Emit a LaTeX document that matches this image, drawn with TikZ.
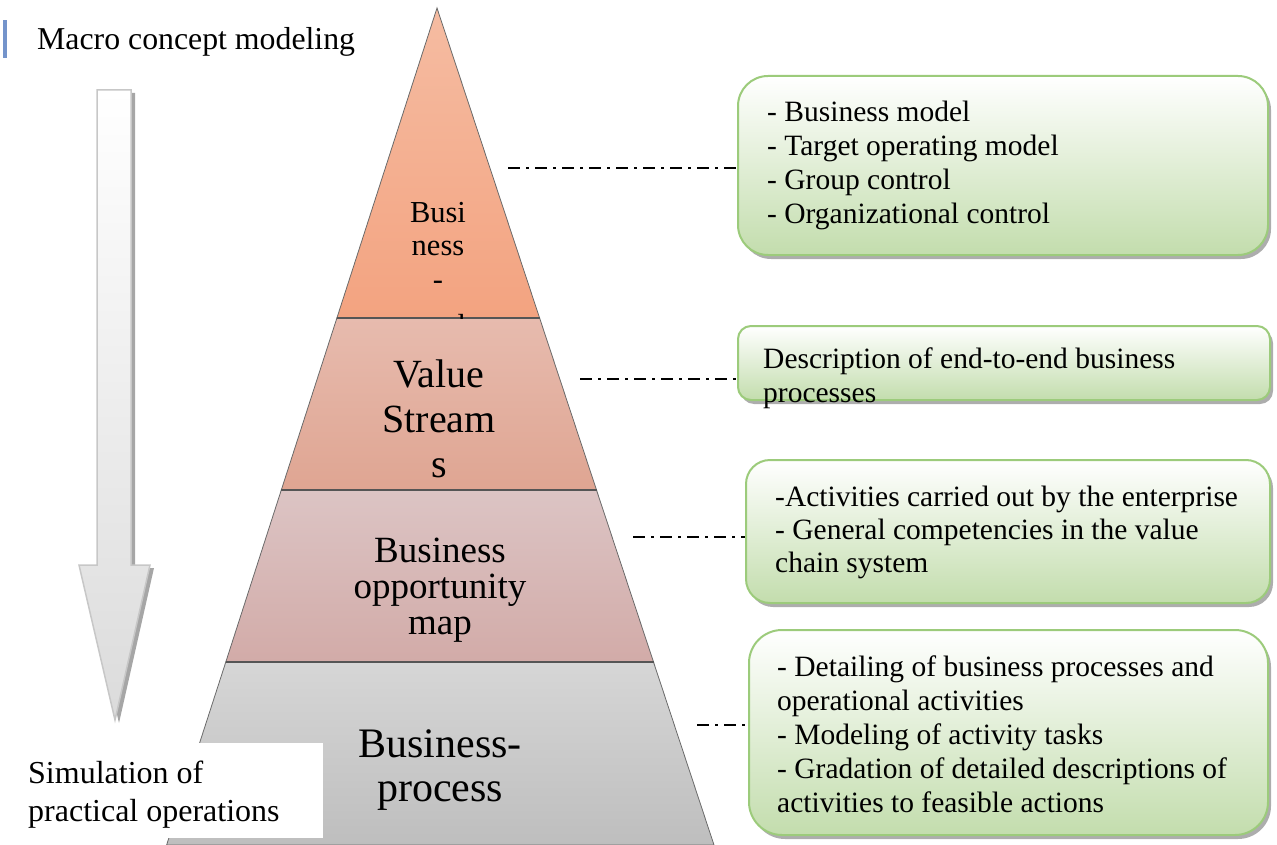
\documentclass[tikz,border=0pt]{standalone}
\usepackage{fontspec}
\setmainfont{Liberation Serif}
\usetikzlibrary{shadows,calc}
\definecolor{orTop}{HTML}{F5BCA2}
\definecolor{orBot}{HTML}{F3A380}
\definecolor{roTop}{HTML}{E7BBAE}
\definecolor{roBot}{HTML}{DFA592}
\definecolor{pkTop}{HTML}{DCC4C4}
\definecolor{pkBot}{HTML}{D2ABA8}
\definecolor{gyTop}{HTML}{D6D6D6}
\definecolor{gyBot}{HTML}{BEBEBE}
\definecolor{edge}{HTML}{6A6A6A}
\definecolor{gBorder}{HTML}{9CCB7B}
\definecolor{gBot}{HTML}{C3DDAD}
\definecolor{barBlue}{HTML}{7494CB}
\begin{document}
\begin{tikzpicture}[x=1pt,y=-1pt,
  layer/.style={draw=edge,line width=0.8pt},
  divider/.style={draw=edge!80!black,line width=1.4pt},
  gbox/.style={draw=gBorder,line width=2pt,top color=white,bottom color=gBot,
     drop shadow={shadow xshift=3pt,shadow yshift=-4pt,fill=black!40,opacity=0.8}},
  boxtext/.style={anchor=base west,align=left,inner sep=0pt,font=\fontsize{29.5}{34}\selectfont},
  dashdot/.style={draw=black,line width=1.8pt,dash pattern=on 12pt off 6pt on 3pt off 6pt},
  pyrtext/.style={inner sep=0pt,align=center,anchor=base}
]
\useasboundingbox (0,0) rectangle (1277,845);

% left arrow
\fill[black!35] (101,93) -- (135,93) -- (135,568) -- (154,568) -- (119,723) -- (83,568) -- (101,568) -- cycle;
\path[draw=black!22,line width=1.5pt,top color=white,bottom color=black!14]
  (97,90) -- (131,90) -- (131,565) -- (150,565) -- (115,720) -- (79,565) -- (97,565) -- cycle;

% header
\fill[barBlue] (3,20) rectangle (7,58);
\node[anchor=base west,inner sep=0pt,font=\fontsize{31.8}{36}\selectfont] (macro) at (37,50) {Macro concept modeling};

% pyramid layers
\path[layer,top color=orTop,bottom color=orBot] (437,8) -- (539.6,318) -- (336.9,318) -- cycle;
\path[layer,top color=roTop,bottom color=roBot] (336.9,318) -- (539.6,318) -- (596.5,490) -- (281.3,490) -- cycle;
\path[layer,top color=pkTop,bottom color=pkBot] (281.3,490) -- (596.5,490) -- (653.5,662) -- (225.8,662) -- cycle;
\path[layer,top color=gyTop,bottom color=gyBot] (225.8,662) -- (653.5,662) -- (714,845) -- (166.6,845) -- cycle;
\draw[divider] (336.9,318) -- (539.6,318);
\draw[divider] (281.3,490) -- (596.5,490);
\draw[divider] (225.8,662) -- (653.5,662);

% texts anchored at the baseline of their last line
\begin{scope}
\clip (437,8) -- (539.6,318) -- (336.9,318) -- cycle;
\node[pyrtext,font=\fontsize{30.5}{33.5}\selectfont] (t1) at (438,335) {Busi\\ness\\-\\[12.5pt]mod};
\end{scope}
\node[pyrtext,font=\fontsize{40}{45}\selectfont] (t2) at (439,477) {Value\\Stream\\s};
\node[pyrtext,font=\fontsize{37}{36}\selectfont] (t3) at (440,634) {Business\\opportunity\\map};
\node[pyrtext,font=\fontsize{42}{44}\selectfont] (t4) at (440,801) {Business-\\process};

% bottom-left label
\node[fill=white,minimum width=323pt,minimum height=95pt,anchor=north west,inner sep=0pt] (simbox) at (0,743) {};
\node[anchor=base west,align=left,inner sep=0pt,font=\fontsize{32}{38}\selectfont] (sim) at (28,821) {Simulation of\\practical operations};

% boxes
\node[gbox,rounded corners=30pt,minimum width=530pt,minimum height=179pt,inner sep=0pt] (b1) at (1003,165.5) {};
\node[gbox,rounded corners=13pt,minimum width=532pt,minimum height=74pt,inner sep=0pt] (b2) at (1004,363) {};
\node[gbox,rounded corners=24pt,minimum width=524pt,minimum height=143pt,inner sep=0pt] (b3) at (1008,531.5) {};
\node[gbox,rounded corners=33pt,minimum width=519pt,minimum height=205pt,inner sep=0pt] (b4) at (1008.5,732.5) {};

\node[boxtext] (x1) at (767,224) {- Business model\\- Target operating model\\- Group control\\- Organizational control};
\node[boxtext] (x2) at (763,402) {Description of end-to-end business\\processes};
\node[boxtext,font=\fontsize{29.5}{33}\selectfont] (x3) at (775,572) {-Activities carried out by the enterprise\\- General competencies in the value\\chain system};
\node[boxtext] (x4) at (777,812) {- Detailing of business processes and\\operational activities\\- Modeling of activity tasks\\- Gradation of detailed descriptions of\\activities to feasible actions};

% connectors
\coordinate (c1) at (508,168);
\coordinate (c2) at (580,379);
\coordinate (c3) at (633,537);
\coordinate (c4) at (697,725);
\draw[dashdot] (c1) -- (c1 -| b1.west);
\draw[dashdot] (c2) -- (c2 -| b2.west);
\draw[dashdot] (c3) -- (c3 -| b3.west);
\draw[dashdot] (c4) -- (c4 -| b4.west);
\end{tikzpicture}
\end{document}
